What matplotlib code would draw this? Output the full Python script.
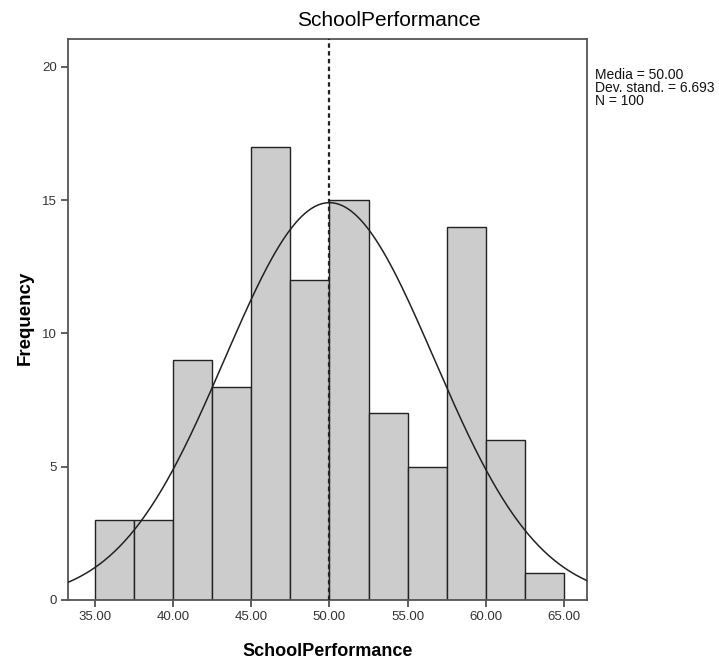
import numpy as np
import matplotlib
matplotlib.use("Agg")
import matplotlib.pyplot as plt

plt.rcParams['font.family'] = ['Liberation Sans', 'DejaVu Sans']

bin_edges = [35.0, 37.5, 40.0, 42.5, 45.0, 47.5, 50.0, 52.5, 55.0, 57.5, 60.0, 62.5, 65.0]
counts = [3, 3, 9, 8, 17, 12, 15, 7, 5, 14, 6, 1]
mean = 50.00
sd = 6.693
n = 100
x_ticks = [35, 40, 45, 50, 55, 60, 65]
y_ticks = [0, 5, 10, 15, 20]

fig = plt.figure(figsize=(7.19, 6.65), dpi=100)
ax = fig.add_axes([68/719, 1-600/665, (587-68)/719, (600-39)/665])

lefts = bin_edges[:-1]
widths = np.diff(bin_edges)
ax.bar(lefts, counts, width=widths, align='edge', color='#cccccc',
       edgecolor='#222222', linewidth=1.0, zorder=2)

xs = np.linspace(33.3, 66.45, 400)
bw = widths[0]
ys = n * bw / (sd * np.sqrt(2 * np.pi)) * np.exp(-0.5 * ((xs - mean) / sd) ** 2)
ax.plot(xs, ys, color='#222222', linewidth=1.1, zorder=3)
ax.axvline(mean, color='#222222', linestyle=(0, (2, 1.5)), linewidth=1.6, zorder=4)

ax.set_xlim(33.3, 66.45)
ax.set_ylim(0, 21.04)
ax.set_xticks(x_ticks)
ax.set_xticklabels([f"{v:.2f}" for v in x_ticks])
ax.set_yticks(y_ticks)
ax.tick_params(axis='both', direction='out', length=5, width=1.2, colors='#444444',
               labelsize=9.5, labelcolor='#333333', pad=3)
for s in ax.spines.values():
    s.set_color('#555555')
    s.set_linewidth(1.3)

fig.text(327.5/719, 1-651/665, 'SchoolPerformance', fontsize=13, fontweight='bold',
         ha='center', va='center')
fig.text(25/719, 1-318/665, 'Frequency', fontsize=13.5, fontweight='bold',
         ha='center', va='center', rotation=90)
fig.text(389/719, 1-20/665, 'SchoolPerformance', fontsize=15, ha='center', va='center')
fig.text(595/719, 1-68/665, f"Media = {mean:.2f}\nDev. stand. = {sd:.3f}\nN = {n}",
         fontsize=10, ha='left', va='top', linespacing=0.92, color='#111111')

fig.savefig('out.png', dpi=100)
